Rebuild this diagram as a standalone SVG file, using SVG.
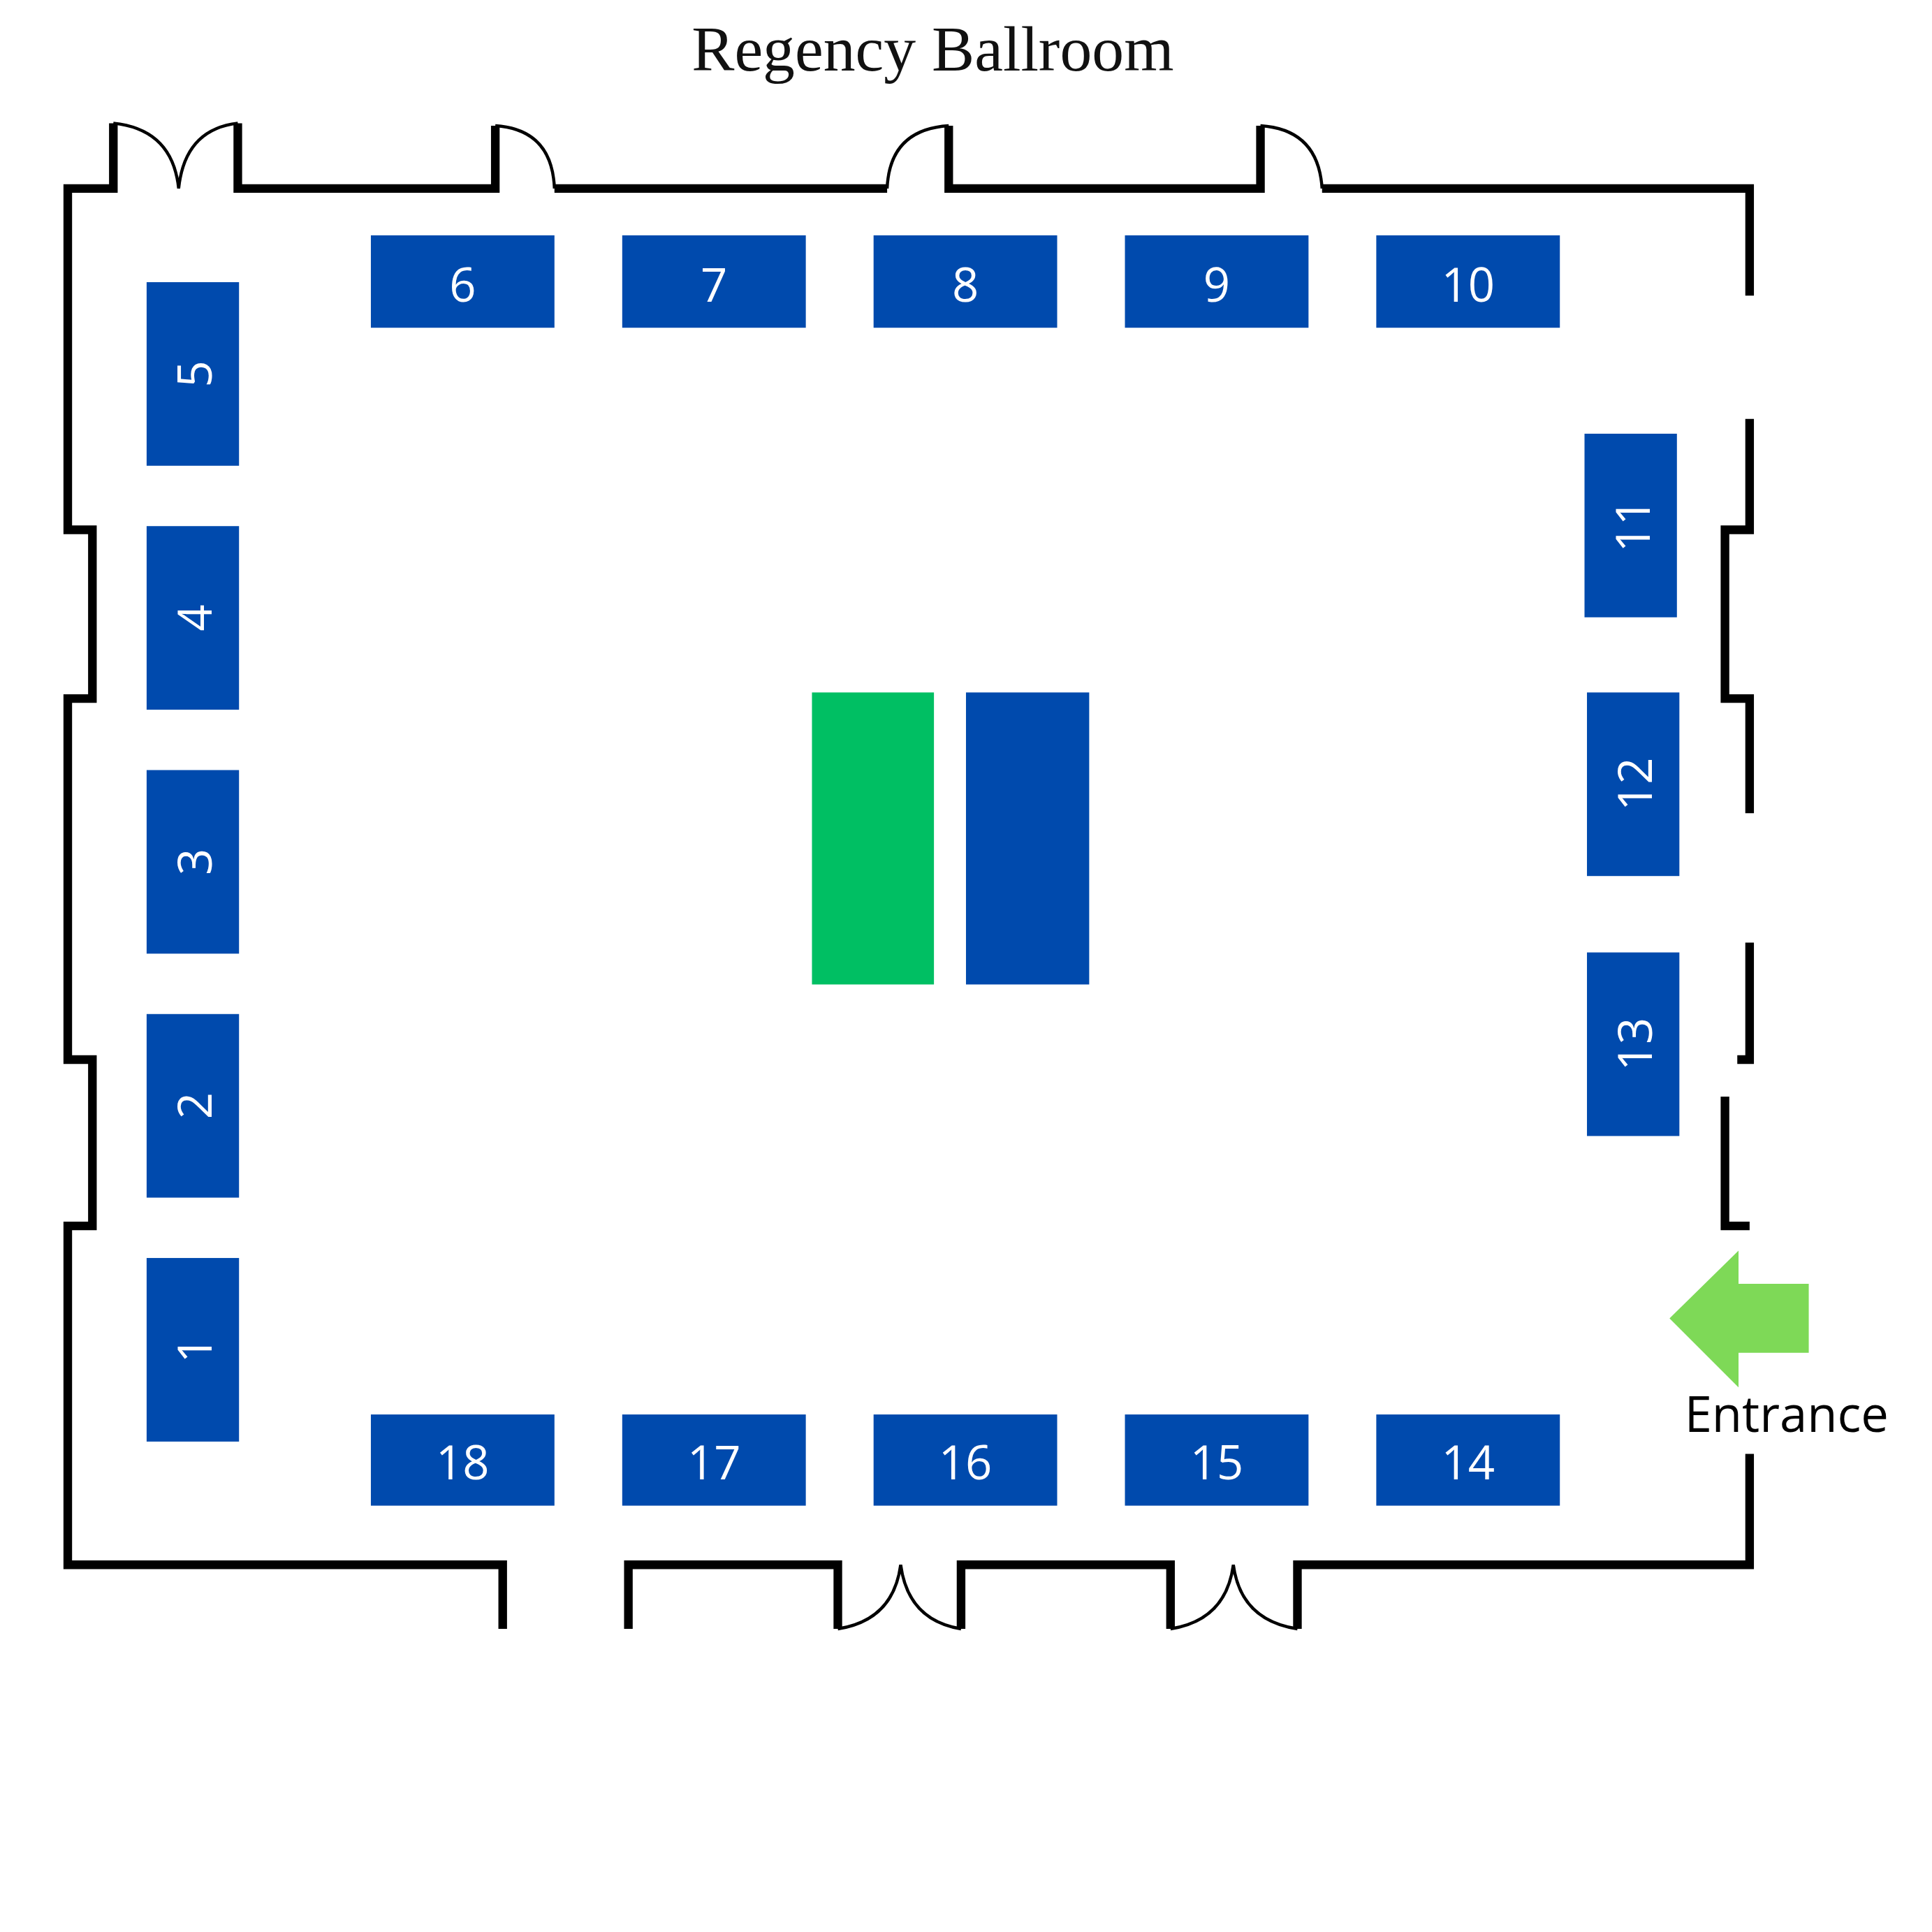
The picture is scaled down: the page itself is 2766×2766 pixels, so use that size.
<svg xmlns="http://www.w3.org/2000/svg" width="2766" height="2766" viewBox="0 0 2766 2766">
<style>
.w{fill:none;stroke:#000;stroke-width:7;stroke-linejoin:miter}
.d{fill:none;stroke:#000;stroke-width:2.5}
.b{fill:#004AAD}
.t{fill:#fff;font-family:"Open Sans",sans-serif;font-size:38px;text-anchor:middle;dominant-baseline:central}
</style>
<rect width="2766" height="2766" fill="#fff"/>
<g transform="scale(1.764)">
<text x="757" y="57" font-family="Liberation Serif,serif" font-size="52" text-anchor="middle" fill="#111">Regency Ballroom</text>
<g id="walls">
<path class="w" d="M92,100 V153 H55 V430 H75 V567 H55 V860 H75 V995 H55 V1270 H408 V1322"/>
<path class="w" d="M193,100 V153 H402 V102"/>
<path class="w" d="M450,153 H720"/>
<path class="w" d="M770,102 V153 H1023 V102"/>
<path class="w" d="M1073,153 H1420 V240"/>
<path class="w" d="M1420,340 V430 H1400 V567 H1420 V660"/>
<path class="w" d="M1420,765 V860 H1410"/>
<path class="w" d="M1400,890 V995 H1420"/>
<path class="w" d="M1420,1180 V1270 H1053 V1322"/>
<path class="w" d="M510,1322 V1270 H680 V1322"/>
<path class="w" d="M780,1322 V1270 H950 V1322"/>
<path class="d" d="M92,100 Q140,105 145,153 Q150,105 193,100"/>
<path class="d" d="M402,102 Q448,105 450,153"/>
<path class="d" d="M770,102 Q722,105 720,153"/>
<path class="d" d="M1023,102 Q1070,105 1073,153"/>
<path class="d" d="M680,1322 Q725,1315 731,1270 Q737,1315 780,1322"/>
<path class="d" d="M950,1322 Q995,1315 1001,1270 Q1007,1315 1053,1322"/>
</g>
<g id="t6"><rect class="b" x="301" y="191" width="149" height="75"/><text class="t" x="375.5" y="230">6</text></g>
<g id="t7"><rect class="b" x="505" y="191" width="149" height="75"/><text class="t" x="579.5" y="230">7</text></g>
<g id="t8"><rect class="b" x="709" y="191" width="149" height="75"/><text class="t" x="783.5" y="230">8</text></g>
<g id="t9"><rect class="b" x="913" y="191" width="149" height="75"/><text class="t" x="987.5" y="230">9</text></g>
<g id="t10"><rect class="b" x="1117" y="191" width="149" height="75"/><text class="t" x="1191.5" y="230">10</text></g>
<g id="t18"><rect class="b" x="301" y="1148" width="149" height="74"/><text class="t" x="375.5" y="1186">18</text></g>
<g id="t17"><rect class="b" x="505" y="1148" width="149" height="74"/><text class="t" x="579.5" y="1186">17</text></g>
<g id="t16"><rect class="b" x="709" y="1148" width="149" height="74"/><text class="t" x="783.5" y="1186">16</text></g>
<g id="t15"><rect class="b" x="913" y="1148" width="149" height="74"/><text class="t" x="987.5" y="1186">15</text></g>
<g id="t14"><rect class="b" x="1117" y="1148" width="149" height="74"/><text class="t" x="1191.5" y="1186">14</text></g>
<g id="t5"><rect class="b" x="119" y="229" width="75" height="149"/><text class="t" transform="translate(157,303.5) rotate(-90)">5</text></g>
<g id="t4"><rect class="b" x="119" y="427" width="75" height="149"/><text class="t" transform="translate(157,501.5) rotate(-90)">4</text></g>
<g id="t3"><rect class="b" x="119" y="625" width="75" height="149"/><text class="t" transform="translate(157,699.5) rotate(-90)">3</text></g>
<g id="t2"><rect class="b" x="119" y="823" width="75" height="149"/><text class="t" transform="translate(157,897.5) rotate(-90)">2</text></g>
<g id="t1"><rect class="b" x="119" y="1021" width="75" height="149"/><text class="t" transform="translate(157,1095.5) rotate(-90)">1</text></g>
<g id="t11"><rect class="b" x="1286" y="352" width="75" height="149"/><text class="t" transform="translate(1324,426.5) rotate(-90)">11</text></g>
<g id="t12"><rect class="b" x="1288" y="562" width="75" height="149"/><text class="t" transform="translate(1326,636.5) rotate(-90)">12</text></g>
<g id="t13"><rect class="b" x="1288" y="773" width="75" height="149"/><text class="t" transform="translate(1326,847.5) rotate(-90)">13</text></g>
<g id="center-green"><rect x="659" y="562" width="99" height="237" fill="#00BF63"/></g>
<g id="center-blue"><rect class="b" x="784" y="562" width="100" height="237"/></g>
<g id="entrance">
<polygon points="1355,1070 1411,1015 1411,1042 1468,1042 1468,1098 1411,1098 1411,1126" fill="#7ED957"/>
<text x="1450" y="1162" font-family="Open Sans,sans-serif" font-size="40" text-anchor="middle" fill="#000">Entrance</text>
</g>
</g>
</svg>
